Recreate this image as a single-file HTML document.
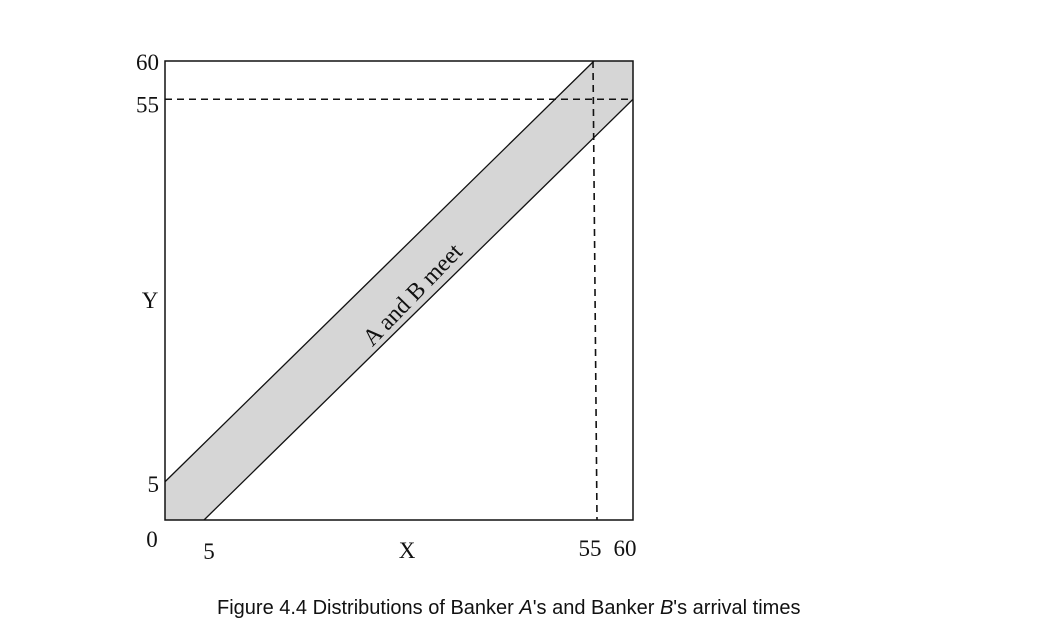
<!DOCTYPE html>
<html><head><meta charset="utf-8"><style>
html,body{margin:0;padding:0;background:#fff;width:1064px;height:642px;overflow:hidden}
svg{display:block}
text{font-family:"Liberation Serif",serif;fill:#111}
</style></head><body>
<svg id="chart" width="1064" height="642" viewBox="0 0 1064 642">
<g id="plot"></g>
<text x="0" y="0" font-size="24" text-anchor="middle" transform="translate(418,300) rotate(-46)">A and B meet</text>
<text x="150" y="308" font-size="23" text-anchor="middle">Y</text>
<text x="407" y="558" font-size="23" text-anchor="middle">X</text>
<text x="217" y="614" font-size="20" style="font-family:'Liberation Sans',sans-serif">Figure 4.4 Distributions of Banker <tspan font-style="italic">A</tspan>'s and Banker <tspan font-style="italic">B</tspan>'s arrival times</text>
</svg>
<script>
const xTicks=[0,5,55,60];
const yTicks=[5,55,60];
const waitLimit=[5];
const domainMax=[60];
const NS="http://www.w3.org/2000/svg";
const g=document.getElementById('plot');
const L=165,R=633,T=61,B=520;
const W=domainMax[0];
const sx=v=>L+(R-L)*v/W, sy=v=>B-(B-T)*v/W;
function el(tag,attrs){const e=document.createElementNS(NS,tag);for(const k in attrs)e.setAttribute(k,attrs[k]);g.appendChild(e);return e;}
const d=waitLimit[0];
const band=el('polygon',{points:[[0,0],[d,0],[W,W-d],[W,W],[W-d,W],[0,d]].map(p=>sx(p[0])+','+sy(p[1])).join(' '),fill:'#d6d6d6',stroke:'none'});


const l1=el('line',{x1:sx(d),y1:sy(0),x2:sx(W),y2:sy(W-d),stroke:'#111','stroke-width':1.3});


const l2=el('line',{x1:sx(0),y1:sy(d),x2:sx(W-d),y2:sy(W),stroke:'#111','stroke-width':1.3});


const frame=el('rect',{x:L,y:T,width:R-L,height:B-T,fill:'none',stroke:'#111','stroke-width':1.5});


const dh=el('line',{x1:L,y1:sy(W-d),x2:R,y2:sy(W-d),stroke:'#111','stroke-width':1.6,'stroke-dasharray':'7,5'});


const dv=el('line',{x1:sx(W-d)-1,y1:T,x2:sx(W-d)+3,y2:B,stroke:'#111','stroke-width':1.6,'stroke-dasharray':'7,5'});


const xo={0:-13,5:5,55:-4,60:-8};
xTicks.forEach(v=>{const t=el('text',{x:sx(v)+xo[v],y:v===0?547:(v===5?559:556),'font-size':23,'text-anchor':'middle'});t.textContent=v;

});
yTicks.forEach(v=>{const t=el('text',{x:159,y:sy(v)+(v===60?9:v===55?13:10),'font-size':23,'text-anchor':'end'});t.textContent=v;

});
</script>
</body></html>
